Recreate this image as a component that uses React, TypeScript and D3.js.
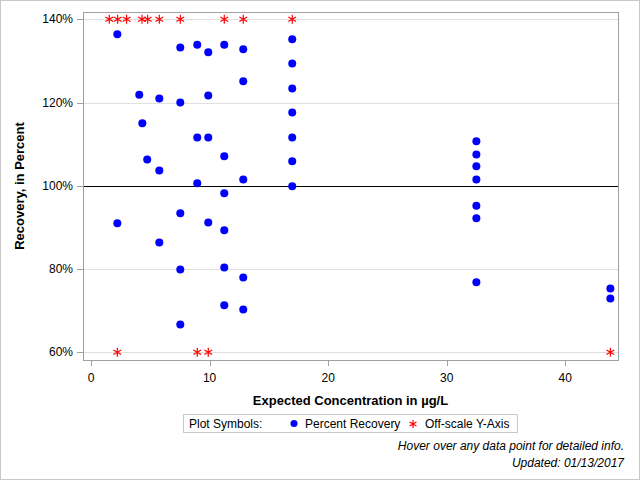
import { useEffect, useRef } from "react";
import * as d3 from "d3";

// concentration (µg/L) and percent recovery
const recoveryX = [
  2.22, 2.22,
  4.07, 4.33, 4.74,
  5.76, 5.76, 5.76,
  7.53, 7.53, 7.53, 7.53, 7.53,
  8.96, 8.96, 8.96,
  9.89, 9.89, 9.89, 9.89,
  11.24, 11.24, 11.24, 11.24, 11.24, 11.24,
  12.84, 12.84, 12.84, 12.84, 12.84,
  16.97, 16.97, 16.97, 16.97, 16.97, 16.97, 16.97,
  32.5, 32.5, 32.5, 32.5, 32.5, 32.5, 32.5,
  43.8, 43.8,
];
const recoveryY = [
  136.4, 91.0,
  121.9, 115.0, 106.3,
  121.0, 103.7, 86.4,
  133.2, 120.0, 93.4, 79.9, 66.7,
  133.9, 111.6, 100.6,
  132.1, 121.7, 111.6, 91.2,
  133.9, 107.1, 98.2, 89.3, 80.4, 71.3,
  132.8, 125.1, 101.5, 78.0, 70.3,
  135.2, 129.4, 123.4, 117.6, 111.6, 105.9, 99.9,
  110.7, 107.5, 104.7, 101.5, 95.2, 92.2, 76.8,
  75.3, 72.9,
];

// off-scale results, pinned to the top (140%) or bottom (60%) of the axis
const offHighX = [1.54, 2.25, 3.0, 4.3, 4.78, 5.76, 7.53, 11.24, 12.84, 16.97];
const offLowX = [2.22, 8.96, 9.89, 43.8];

const xTicks = [0, 10, 20, 30, 40];
const yTicks = [60, 80, 100, 120, 140];

const W = 640;
const H = 480;
const font = "'Liberation Sans', Arial, sans-serif";

const App = () => {
  const svgRef = useRef<SVGSVGElement | null>(null);

  useEffect(() => {
    if (!svgRef.current) return;
    const svg = d3.select(svgRef.current);
    svg.selectAll("*").remove();

    const frame = { left: 83, right: 618, top: 12, bottom: 360 };

    const x = d3.scaleLinear().domain([0, 40]).range([91, 565.3]);
    const y = d3.scaleLinear().domain([60, 140]).range([352.3, 19.3]);

    // outer border
    svg.append("rect")
      .attr("x", 0.5).attr("y", 0.5)
      .attr("width", W - 1).attr("height", H - 1)
      .attr("fill", "#fff")
      .attr("stroke", "#c8c8c8");

    // grid lines
    svg.append("g")
      .selectAll("line")
      .data(yTicks.filter((t) => t !== 100))
      .join("line")
      .attr("x1", frame.left).attr("x2", frame.right)
      .attr("y1", (d) => Math.round(y(d)) + 0.5)
      .attr("y2", (d) => Math.round(y(d)) + 0.5)
      .attr("stroke", "#e0e0e0");

    // 100% reference line
    svg.append("line")
      .attr("x1", frame.left).attr("x2", frame.right)
      .attr("y1", Math.round(y(100)) + 0.5)
      .attr("y2", Math.round(y(100)) + 0.5)
      .attr("stroke", "#000");

    // frame
    svg.append("rect")
      .attr("x", frame.left + 0.5).attr("y", frame.top + 0.5)
      .attr("width", frame.right - frame.left)
      .attr("height", frame.bottom - frame.top)
      .attr("fill", "none")
      .attr("stroke", "#a0a0a0");

    // y axis
    const yAxis = svg.append("g");
    yAxis.selectAll("line")
      .data(yTicks)
      .join("line")
      .attr("x1", frame.left - 6).attr("x2", frame.left)
      .attr("y1", (d) => Math.round(y(d)) + 0.5)
      .attr("y2", (d) => Math.round(y(d)) + 0.5)
      .attr("stroke", "#a0a0a0");
    yAxis.selectAll("text")
      .data(yTicks)
      .join("text")
      .attr("x", frame.left - 10)
      .attr("y", (d) => y(d) + 4)
      .attr("text-anchor", "end")
      .attr("font-family", font)
      .attr("font-size", 12)
      .attr("fill", "#000")
      .text((d) => `${d}%`);

    // x axis
    const xAxis = svg.append("g");
    xAxis.selectAll("line")
      .data(xTicks)
      .join("line")
      .attr("x1", (d) => Math.round(x(d)) + 0.5)
      .attr("x2", (d) => Math.round(x(d)) + 0.5)
      .attr("y1", frame.bottom).attr("y2", frame.bottom + 6)
      .attr("stroke", "#a0a0a0");
    xAxis.selectAll("text")
      .data(xTicks)
      .join("text")
      .attr("x", (d) => x(d))
      .attr("y", frame.bottom + 22)
      .attr("text-anchor", "middle")
      .attr("font-family", font)
      .attr("font-size", 12)
      .attr("fill", "#000")
      .text((d) => d);

    // axis titles
    svg.append("text")
      .attr("x", (frame.left + frame.right) / 2)
      .attr("y", 405)
      .attr("text-anchor", "middle")
      .attr("font-family", font)
      .attr("font-size", 13)
      .attr("font-weight", "bold")
      .text("Expected Concentration in µg/L");

    svg.append("text")
      .attr("transform", `translate(24,${(frame.top + frame.bottom) / 2}) rotate(-90)`)
      .attr("text-anchor", "middle")
      .attr("font-family", font)
      .attr("font-size", 13)
      .attr("font-weight", "bold")
      .text("Recovery, in Percent");

    // asterisk marker path
    const star = (r: number) => {
      const a = Math.PI / 6;
      const dx = r * Math.cos(a);
      const dy = r * Math.sin(a);
      return `M0,${-r}V${r}M${-dx},${-dy}L${dx},${dy}M${-dx},${dy}L${dx},${-dy}`;
    };

    // points
    const dots = recoveryX.map((v, i) => ({ x: v, y: recoveryY[i] }));
    svg.append("g")
      .selectAll("circle")
      .data(dots)
      .join("circle")
      .attr("cx", (d) => x(d.x))
      .attr("cy", (d) => y(d.y))
      .attr("r", 4)
      .attr("fill", "#0000ff");

    const offs = [
      ...offHighX.map((v) => ({ x: v, y: 140 })),
      ...offLowX.map((v) => ({ x: v, y: 60 })),
    ];
    svg.append("g")
      .selectAll("path")
      .data(offs)
      .join("path")
      .attr("transform", (d) => `translate(${x(d.x)},${y(d.y)})`)
      .attr("d", star(4.5))
      .attr("fill", "none")
      .attr("stroke", "#ff0000")
      .attr("stroke-width", 1.2);

    // legend
    const lg = svg.append("g");
    lg.append("rect")
      .attr("x", 183.5).attr("y", 414.5)
      .attr("width", 334).attr("height", 18)
      .attr("fill", "#fff")
      .attr("stroke", "#c8c8c8");
    lg.append("text")
      .attr("x", 189).attr("y", 428)
      .attr("font-family", font).attr("font-size", 12)
      .text("Plot Symbols:");
    lg.append("circle")
      .attr("cx", 294).attr("cy", 423.5).attr("r", 3.5)
      .attr("fill", "#0000ff");
    lg.append("text")
      .attr("x", 305).attr("y", 428)
      .attr("font-family", font).attr("font-size", 12)
      .text("Percent Recovery");
    lg.append("path")
      .attr("transform", "translate(413,424)")
      .attr("d", star(4))
      .attr("fill", "none")
      .attr("stroke", "#ff0000")
      .attr("stroke-width", 1.2);
    lg.append("text")
      .attr("x", 425).attr("y", 428)
      .attr("font-family", font).attr("font-size", 12)
      .text("Off-scale Y-Axis");

    // footnotes
    svg.append("text")
      .attr("x", 624).attr("y", 450)
      .attr("text-anchor", "end")
      .attr("font-family", font).attr("font-size", 12)
      .attr("font-style", "italic")
      .text("Hover over any data point for detailed info.");
    svg.append("text")
      .attr("x", 624).attr("y", 467)
      .attr("text-anchor", "end")
      .attr("font-family", font).attr("font-size", 12)
      .attr("font-style", "italic")
      .text("Updated: 01/13/2017");
  }, []);

  return (
    <svg
      ref={svgRef}
      width={W}
      height={H}
      style={{ position: "absolute", left: 0, top: 0, display: "block" }}
      viewBox={`0 0 ${W} ${H}`}
    />
  );
};

export default App;
